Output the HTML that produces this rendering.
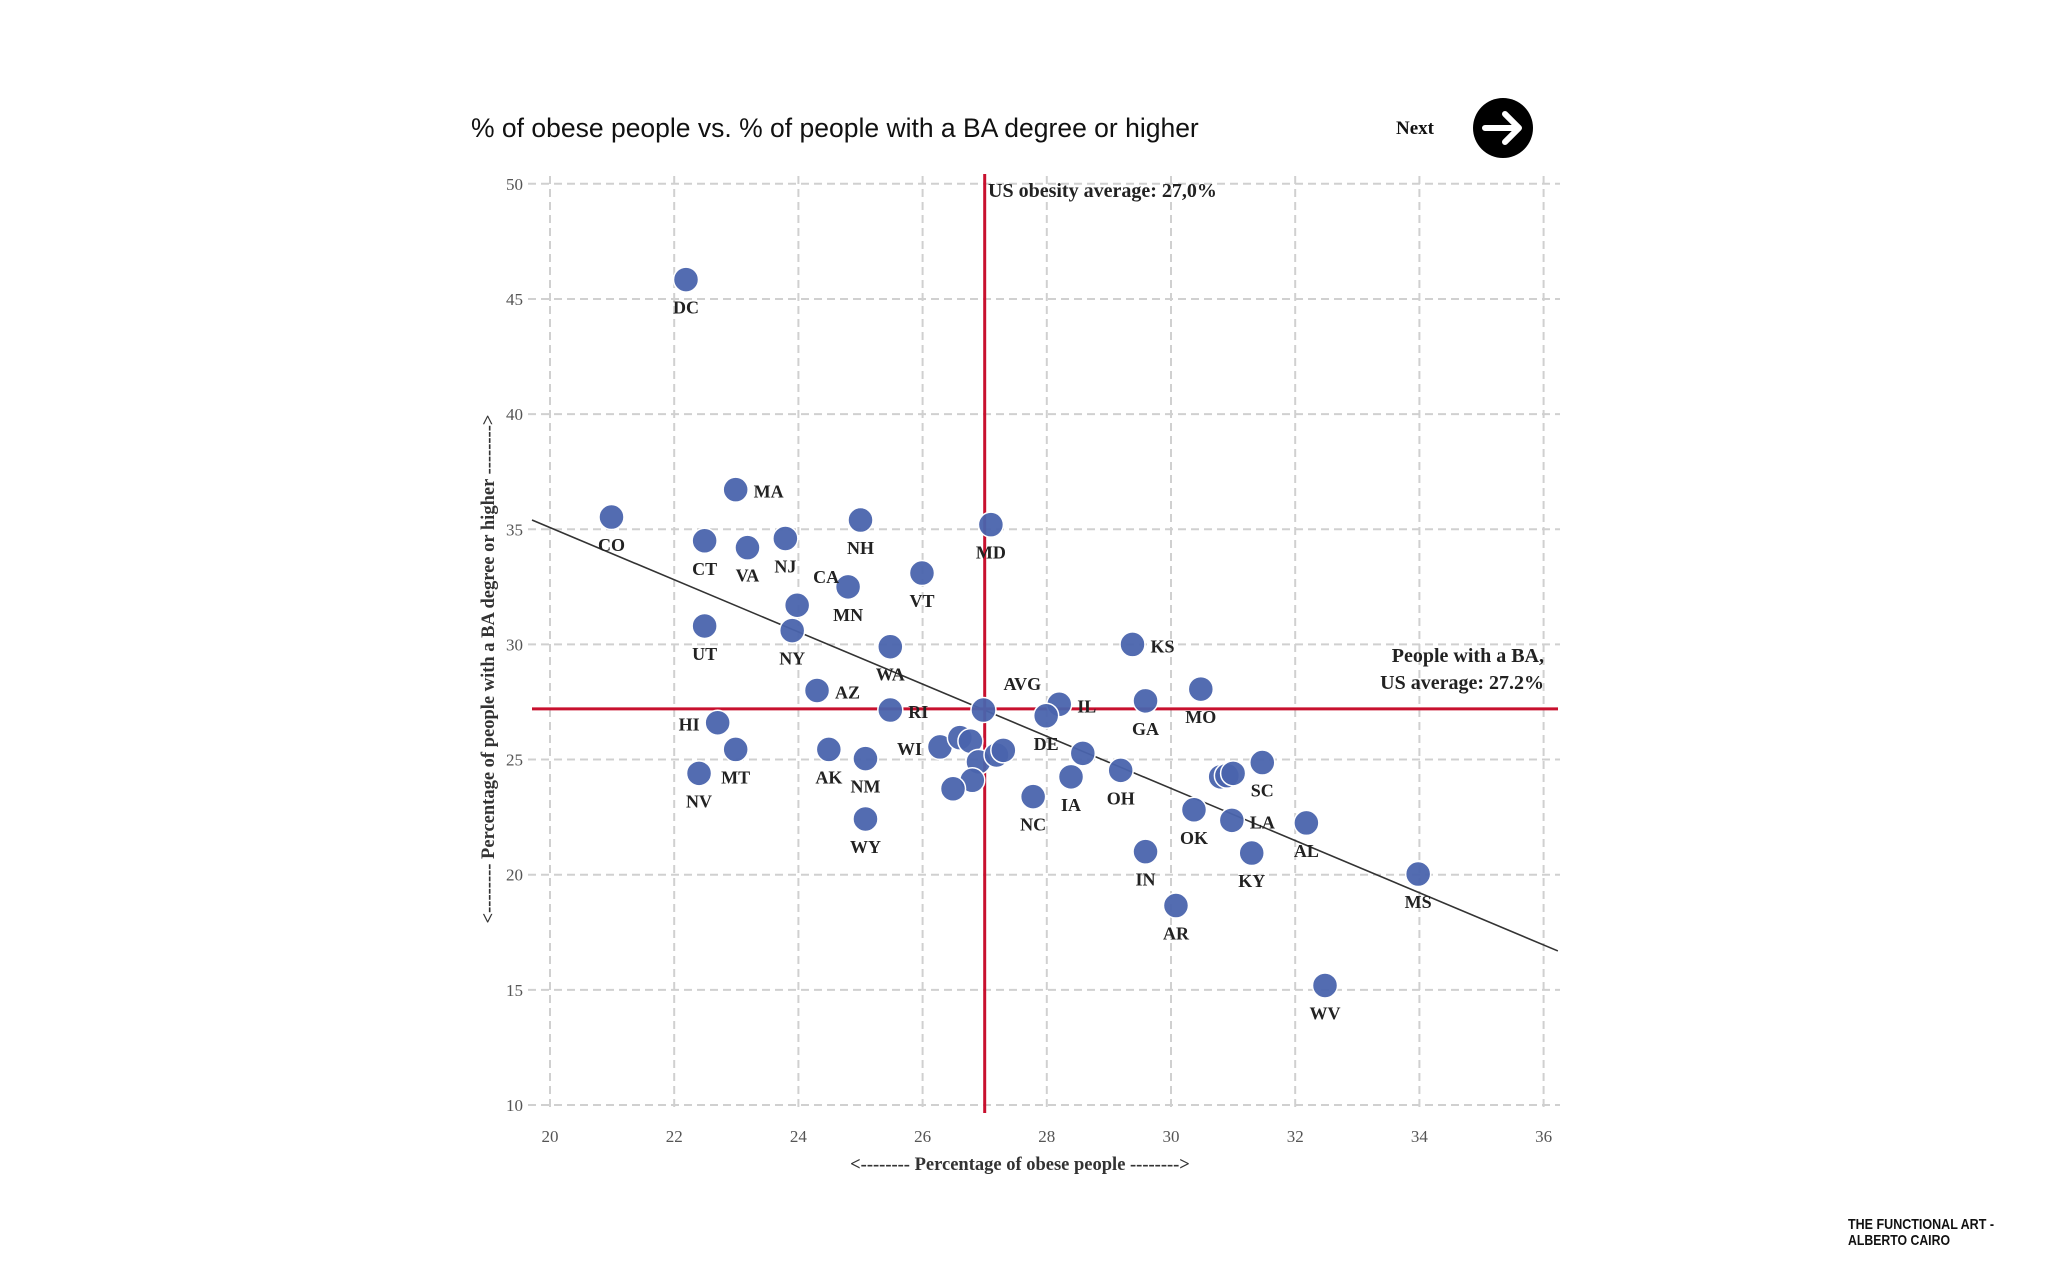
<!DOCTYPE html>
<html><head><meta charset="utf-8">
<style>
html,body{margin:0;padding:0;background:#fff;}
svg{display:block;}
.serif{font-family:"Liberation Serif",serif;}
</style></head>
<body>
<svg id="chart" width="2048" height="1280" xmlns="http://www.w3.org/2000/svg">
  <text x="471" y="137" font-family="Liberation Sans, sans-serif" font-size="26.5" fill="#111">% of obese people vs. % of people with a BA degree or higher</text>
  <text x="1434" y="134" class="serif" font-size="19" font-weight="bold" fill="#111" text-anchor="end">Next</text>
  <g>
    <circle cx="1503" cy="128" r="30" fill="#000"/>
    <path d="M1485 128 H1518 M1505 114 L1519 128 L1505 142" stroke="#fff" stroke-width="6" fill="none" stroke-linecap="round" stroke-linejoin="round"/>
  </g>
  <g id="grid"></g>
  <g id="ticks"></g>
  <g id="refs"></g>
  <g id="dots"></g>
  <text x="1020" y="1170" class="serif" font-size="18.5" font-weight="bold" fill="#333" text-anchor="middle">&lt;-------- Percentage of obese people --------&gt;</text>
  <text transform="translate(494,669) rotate(-90)" class="serif" font-size="18.5" font-weight="bold" fill="#333" text-anchor="middle">&lt;-------- Percentage of people with a BA degree or higher --------&gt;</text>
  <text x="988" y="197" class="serif" font-size="20" font-weight="bold" fill="#222">US obesity average: 27,0%</text>
  <text x="1544" y="662" class="serif" font-size="20" font-weight="bold" fill="#222" text-anchor="end">People with a BA,</text>
  <text x="1544" y="689" class="serif" font-size="20" font-weight="bold" fill="#222" text-anchor="end">US average: 27.2%</text>
  <text x="1848" y="1229" font-family="Liberation Sans Narrow, Liberation Sans, sans-serif" font-size="15" font-weight="bold" fill="#111" textLength="146" lengthAdjust="spacingAndGlyphs">THE FUNCTIONAL ART -</text>
  <text x="1848" y="1245" font-family="Liberation Sans Narrow, Liberation Sans, sans-serif" font-size="15" font-weight="bold" fill="#111" textLength="102" lengthAdjust="spacingAndGlyphs">ALBERTO CAIRO</text>
</svg>
<script>
const states = ["DC","CO","MA","CT","VA","NJ","NH","MD","CA","MN","VT","UT","NY","WA","AZ","RI","AVG","IL","DE","KS","GA","MO","HI","MT","NV","AK","NM","WY","WI","","","","","","","","NC","IA","","OH","OK","SC","","","","LA","AL","KY","IN","AR","MS","WV"];
const obesity = [22.19,20.99,22.99,22.49,23.18,23.79,25.0,27.1,23.98,24.8,25.99,22.49,23.9,25.48,24.3,25.48,26.98,28.2,27.99,29.38,29.59,30.48,22.7,22.99,22.4,24.49,25.08,25.08,26.28,26.6,26.77,26.9,26.8,26.49,27.19,27.3,27.78,28.39,28.58,29.19,30.37,31.47,30.8,30.9,31.0,30.98,32.18,31.3,29.59,30.08,33.98,32.48];
const baDegree = [45.84,35.53,36.72,34.5,34.2,34.6,35.4,35.2,31.7,32.5,33.1,30.8,30.6,29.9,28.0,27.15,27.15,27.4,26.9,30.0,27.55,28.06,26.6,25.44,24.4,25.44,25.04,22.42,25.55,25.95,25.8,24.9,24.1,23.73,25.2,25.4,23.39,24.25,25.27,24.53,22.82,24.87,24.25,24.3,24.4,22.36,22.25,20.94,21.0,18.66,20.03,15.19];
const labelPos = ["b","b","r","b","b","b","b","b","ca","b","b","b","b","b","r","r","ar","r","b","r","b","b","l","b","b","b","b","b","l","","","","","","","","b","b","","b","b","b","","","","r","b","b","b","b","b","b"];
const xTicks = [20,22,24,26,28,30,32,34,36];
const yTicks = [10,15,20,25,30,35,40,45,50];
const avgObesity = 27.0;
const avgBA = 27.2;
const trend = [[19.71,35.4],[36.23,16.69]];

const NS="http://www.w3.org/2000/svg";
function X(v){return 550+(v-20)*62.1;}
function Y(v){return 1105-(v-10)*23.03;}
function mk(tag,attrs,parent){const e=document.createElementNS(NS,tag);for(const k in attrs)e.setAttribute(k,attrs[k]);parent.appendChild(e);return e;}
const grid=document.getElementById('grid'), ticks=document.getElementById('ticks'), refs=document.getElementById('refs'), dots=document.getElementById('dots');
xTicks.forEach(t=>{
  const l=mk('line',{x1:X(t),x2:X(t),y1:176,y2:1112,stroke:'#d0d0d0','stroke-width':2,'stroke-dasharray':'8,5'},grid);
  
  
  const tx=mk('text',{x:X(t),y:1142,'text-anchor':'middle','font-size':17,fill:'#555','font-family':'Liberation Serif, serif'},ticks);
  tx.textContent=t;
  
  
});
yTicks.forEach(t=>{
  const l=mk('line',{x1:528,x2:1560,y1:Y(t),y2:Y(t),stroke:'#d0d0d0','stroke-width':2,'stroke-dasharray':'8,5'},grid);
  
  
  const tx=mk('text',{x:523,y:Y(t)+6,'text-anchor':'end','font-size':17,fill:'#555','font-family':'Liberation Serif, serif'},ticks);
  tx.textContent=t;
  
  
});
const tl=mk('line',{x1:X(trend[0][0]),y1:Y(trend[0][1]),x2:X(trend[1][0]),y2:Y(trend[1][1]),stroke:'#333','stroke-width':1.6},refs);


const vl=mk('line',{x1:X(avgObesity),x2:X(avgObesity),y1:174,y2:1113,stroke:'#c8102e','stroke-width':3},refs);


const hl=mk('line',{x1:532,x2:1558,y1:Y(avgBA),y2:Y(avgBA),stroke:'#c8102e','stroke-width':3},refs);


const off={b:[0,34,'middle'],r:[18,8,'start'],l:[-18,8,'end'],ar:[20,-20,'start'],ca:[16,-22,'start']};
obesity.forEach((o,i)=>{
  const c=mk('circle',{cx:X(o),cy:Y(baDegree[i]),r:12.5,fill:'#4a64ad',stroke:'#fff','stroke-width':1.5,'fill-opacity':0.95},dots);
  
  
});
obesity.forEach((o,i)=>{
  if(!states[i])return;
  const p=off[labelPos[i]];
  const t=mk('text',{x:X(o)+p[0],y:Y(baDegree[i])+p[1],'text-anchor':p[2],'font-size':18,'font-weight':'bold',fill:'#222','font-family':'Liberation Serif, serif'},dots);
  t.textContent=states[i];
  
  
});
</script>
</body></html>
